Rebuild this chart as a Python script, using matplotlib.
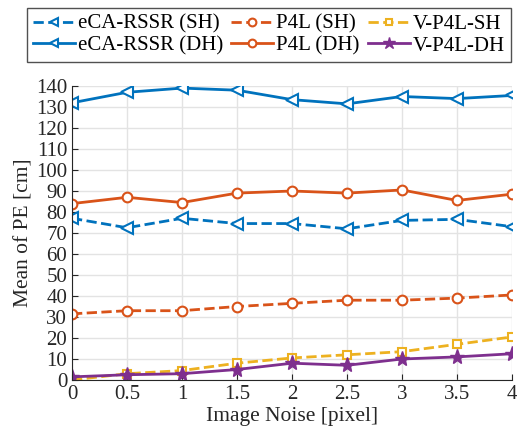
import numpy as np
import matplotlib.pyplot as plt

plt.rcParams['font.family'] = ['Liberation Serif', 'DejaVu Serif']

# Image noise levels [pixel]
noise = [0, 0.5, 1, 1.5, 2, 2.5, 3, 3.5, 4]

# Mean of PE [cm] per method
eca_sh = [77, 72.5, 77, 74.5, 74.5, 72, 76, 76.5, 73]
p4l_sh = [31.5, 33, 33, 35, 36.5, 38, 38, 39, 40.5]
vp4l_sh = [0, 3, 4.5, 8, 10.5, 12, 13.5, 17, 20.5]
eca_dh = [132, 137, 139, 138, 133.5, 131.5, 135, 134, 135.5]
p4l_dh = [84, 87, 84.5, 89, 90, 89, 90.5, 85.5, 88.5]
vp4l_dh = [1.5, 2.5, 3, 5, 8, 7, 10, 11, 12.5]

blue = '#0072BD'
orange = '#D95319'
yellow = '#EDB120'
purple = '#7E2F8E'

fig = plt.figure(figsize=(5.17, 4.34), dpi=100)
ax = fig.add_axes([72/517, 1 - 380/434, 440/517, 294/434])

h1, = ax.plot(noise, eca_sh, '--', color=blue, lw=2, marker='<', ms=8, mfc='white', mew=1.5, label='eCA-RSSR (SH)')
h2, = ax.plot(noise, p4l_sh, '--', color=orange, lw=2, marker='o', ms=7, mfc='white', mew=1.5, label='P4L (SH)')
h3, = ax.plot(noise, vp4l_sh, '--', color=yellow, lw=2, marker='s', ms=6, mfc='white', mew=1.5, label='V-P4L-SH')
h4, = ax.plot(noise, eca_dh, '-', color=blue, lw=2, marker='<', ms=8, mfc='white', mew=1.5, label='eCA-RSSR (DH)')
h5, = ax.plot(noise, p4l_dh, '-', color=orange, lw=2, marker='o', ms=7, mfc='white', mew=1.5, label='P4L (DH)')
h6, = ax.plot(noise, vp4l_dh, '-', color=purple, lw=2, marker='*', ms=11, label='V-P4L-DH')

ax.set_xlim(0, 4)
ax.set_ylim(0, 140)
ax.set_xticks(noise)
ax.set_xticklabels(['0', '0.5', '1', '1.5', '2', '2.5', '3', '3.5', '4'])
ax.set_yticks(np.arange(0, 141, 10))
ax.tick_params(direction='in', labelsize=15, colors='#262626', length=4)
ax.grid(True, color='#e3e3e3', lw=1)
ax.set_axisbelow(True)
for s in ['top', 'right']:
    ax.spines[s].set_visible(False)
for s in ['left', 'bottom']:
    ax.spines[s].set_color('#262626')

ax.set_xlabel('Image Noise [pixel]', fontsize=15.5, color='#262626', labelpad=2)
ax.set_ylabel('Mean of PE [cm]', fontsize=15.5, color='#262626', labelpad=2)

# legend filled row by row like the original
handles = [h1, h4, h2, h5, h3, h6]
leg = fig.legend(handles=handles, labels=[h.get_label() for h in handles],
                 loc='upper center', bbox_to_anchor=(269/517, 1 - 8/434),
                 ncol=3, fontsize=15, frameon=True, fancybox=False, markerscale=0.8,
                 handlelength=2.0, handletextpad=0.15, columnspacing=0.4, borderaxespad=0,
                 labelspacing=0.1, borderpad=0.3)
leg.get_frame().set_edgecolor('#262626')
leg.get_frame().set_linewidth(1)

fig.savefig('out.png', dpi=100)
